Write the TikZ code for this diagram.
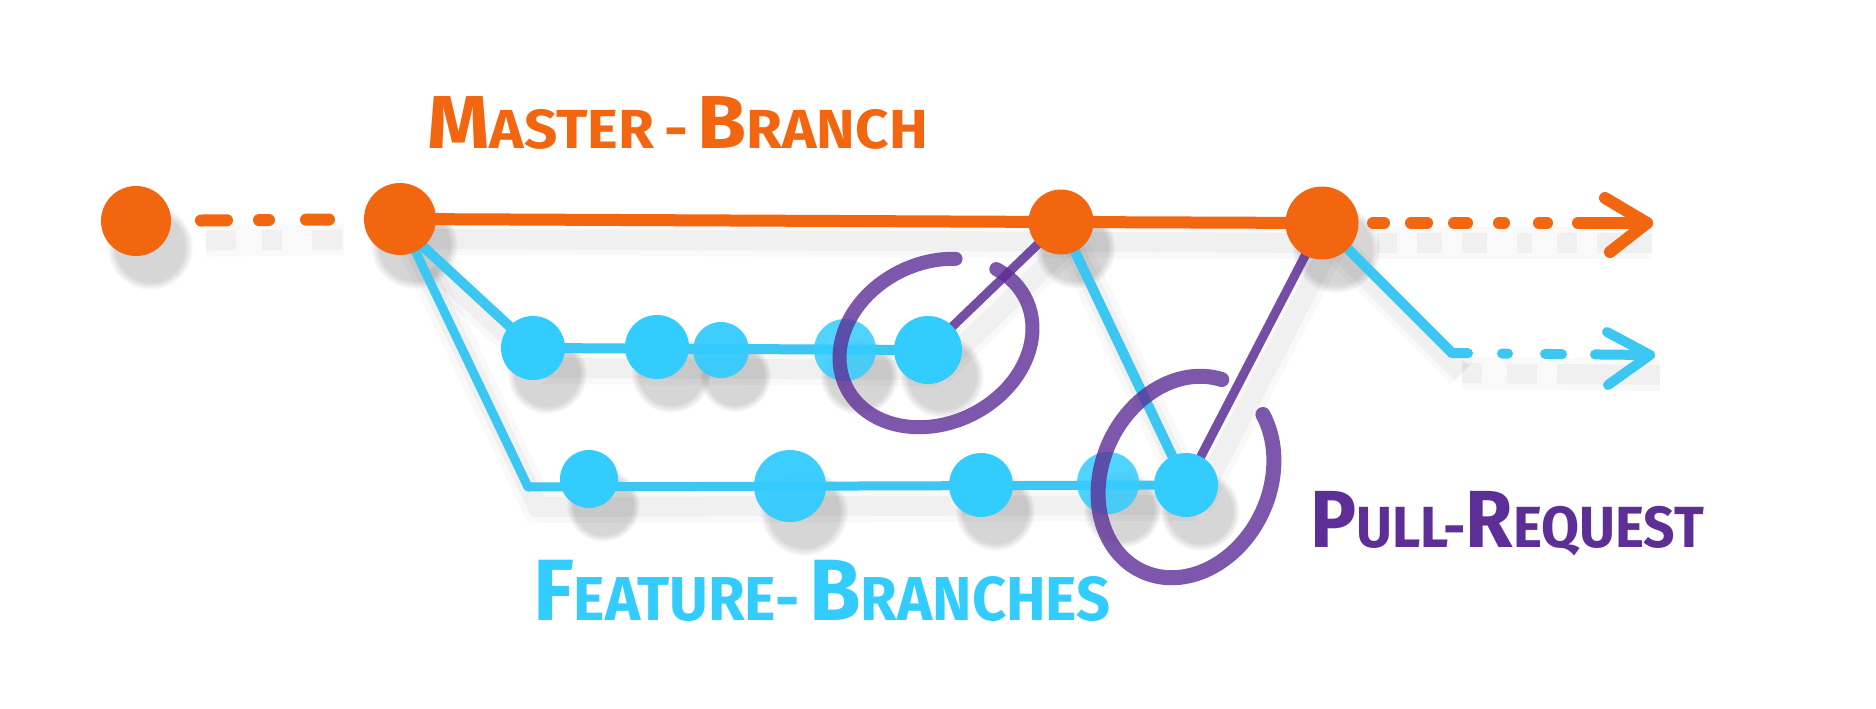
\documentclass[tikz,border=0pt]{standalone}
\usepackage{fontspec}
\setmainfont{Fira Sans}
\usetikzlibrary{fadings}
\definecolor{morange}{RGB}{243,102,16}
\definecolor{fblue}{RGB}{51,204,255}
\definecolor{lblue}{RGB}{60,198,242}
\definecolor{prpurple}{RGB}{92,46,150}
\pgfdeclarelayer{bg}
\pgfdeclarelayer{shadow}
\pgfdeclarelayer{lines}
\pgfdeclarelayer{marks}
\pgfsetlayers{bg,shadow,lines,main,marks}
\begin{document}
\begin{tikzpicture}[x=1pt,y=1pt,
  commit/.style={circle, inner sep=0pt, minimum size=#1, draw=none},
  orangeline/.style={draw=morange, line width=12pt, line cap=round, line join=round},
  blueline/.style={draw=lblue, line width=10pt, line cap=round, line join=round},
  prline/.style={draw=prpurple, line width=9pt, line cap=round, draw opacity=0.85},
  prring/.style={draw=prpurple, line width=14pt, line cap=round, draw opacity=0.8},
  cshadow/.style={fill=black, fill opacity=0.16, path fading=circle with fuzzy edge 20 percent},
  lshadow/.style={draw=black, draw opacity=0.035, line width=20pt,
    preaction={draw=black, draw opacity=0.025, line width=32pt}},
  lbl/.style={inner sep=0pt, anchor=base west, font=\bfseries}]
\begin{pgfonlayer}{bg}
  \fill[white] (0,0) rectangle (1876,-709);
\end{pgfonlayer}
\useasboundingbox (0,0) rectangle (1876,-709);

% commits
\foreach \n/\x/\y/\d/\c/\o in {
  M0/136/221/70/morange/1, M1/400/219/72/morange/1, M2/1061/222/65/morange/1, M3/1322/223/73/morange/1,
  F1a/533/348/64/fblue/1, F1b/657/347/64/fblue/1, F1c/721/350/56/fblue/0.95, F1d/845/350/62/fblue/0.85, F1e/928/350/68/fblue/1,
  F2a/589/479/58/fblue/1, F2b/790/486/72/fblue/0.95, F2c/981/485/64/fblue/1, F2d/1108/483/62/fblue/0.85, F2e/1186/485/64/fblue/1}{
  \node[commit=\d pt, fill=\c, fill opacity=\o] (\n) at (\x,-\y) {};
  \begin{pgfonlayer}{shadow}
    \fill[cshadow] (\x+14,-\y-26) circle ({\d/2+8});
  \end{pgfonlayer}
}

\coordinate (c2) at (528,-487);
\coordinate (c3) at (1452,-353);
\coordinate (ot) at (1647,-223);
\coordinate (bt) at (1650,-355);

% connectors
\begin{pgfonlayer}{lines}
  \draw[orangeline, dash pattern=on 26pt off 32pt on 10pt off 37pt on 23pt off 200pt, shorten <=65pt, shorten >=71pt] (M0.center) -- (M1.center);
  \draw[orangeline] (M1.center) -- (M2.center) -- (M3.center);
  \draw[orangeline, dash pattern=on 11pt off 27pt on 16pt off 27pt on 13pt off 32pt on 5pt off 35pt on 8pt off 31pt on 200pt, shorten <=51pt] (M3.center) -- (ot);
  \draw[orangeline] (ot) ++(-42,25) -- (ot) -- ++(-37,-29);
  \draw[blueline] (M1.-50) -- (F1a.center) -- (F1e.center);
  \draw[blueline, line width=9pt] (M1.center) -- (c2) -- (F2e.center);
  \draw[blueline] (M2.center) -- (F2e.center);
  \draw[blueline] (M3.center) -- (c3);
  \draw[blueline, dash pattern=on 16pt off 34pt on 6pt off 37pt on 17pt off 33pt on 200pt] (c3) -- (bt);
  \draw[blueline] (bt) ++(-43,23) -- (bt) -- ++(-42,-30);
  \draw[prline] (F1e.center) -- (M2.center);
  \draw[prline] (F2e.center) -- (M3.center);
\end{pgfonlayer}

% soft shadows of the connectors
\begin{pgfonlayer}{shadow}
\begin{scope}[transform canvas={shift={(10pt,-20pt)}}]
  \draw[lshadow] (M1.center) -- (M3.center);
  \draw[lshadow, dash pattern=on 30pt off 26pt on 20pt off 30pt on 30pt off 200pt, shorten <=60pt, shorten >=66pt] (M0.center) -- (M1.center);
  \draw[lshadow, dash pattern=on 20pt off 20pt on 25pt off 20pt on 25pt off 30pt on 15pt off 25pt on 20pt off 20pt on 80pt, shorten <=45pt, shorten >=5pt] (M3.center) -- (ot);
  \draw[lshadow] (F1a.center) -- (F1e.center);
  \draw[lshadow] (M1.center) -- (c2) -- (F2e.center);
  \draw[lshadow] (M1.-50) -- (F1a.center);
  \draw[lshadow] (M2.center) -- (F2e.center);
  \draw[lshadow] (F1e.center) -- (M2.center);
  \draw[lshadow] (F2e.center) -- (M3.center);
  \draw[lshadow] (M3.center) -- (c3);
  \draw[lshadow, dash pattern=on 20pt off 25pt on 30pt off 20pt on 200pt] (c3) -- (bt);
\end{scope}
\end{pgfonlayer}

% pull-request rings
\begin{pgfonlayer}{marks}
  \draw[prring, shift={(936,-343)}, rotate=26] (57:100 and 80) arc[start angle=57, end angle=390, x radius=100, y radius=80];
  \draw[prring, line width=15pt, shift={(1186,-477)}, rotate=65] (6:104 and 84) arc[start angle=6, end angle=329, x radius=104, y radius=84];
\end{pgfonlayer}

% labels
\node[lbl, text=morange] (mastertxt) at (427,-148)
  {\scalebox{1.06}[1]{{\fontsize{75}{75}\selectfont M}{\fontsize{55}{55}\selectfont ASTER\,-\,}{\fontsize{75}{75}\selectfont B}{\fontsize{55}{55}\selectfont RANCH}}};
\node[lbl, text=fblue] (featuretxt) at (533,-620)
  {\scalebox{0.96}[1]{{\fontsize{87}{87}\selectfont F}{\fontsize{62}{62}\selectfont EATURE-\,}{\fontsize{87}{87}\selectfont B}{\fontsize{62}{62}\selectfont RANCHES}}};
\node[lbl, text=prpurple] (pulltxt) at (1310,-547)
  {\scalebox{0.95}[1]{{\fontsize{81}{81}\selectfont P}{\fontsize{58}{58}\selectfont ULL-}{\fontsize{81}{81}\selectfont R}{\fontsize{58}{58}\selectfont EQUEST}}};
\end{tikzpicture}
\end{document}
